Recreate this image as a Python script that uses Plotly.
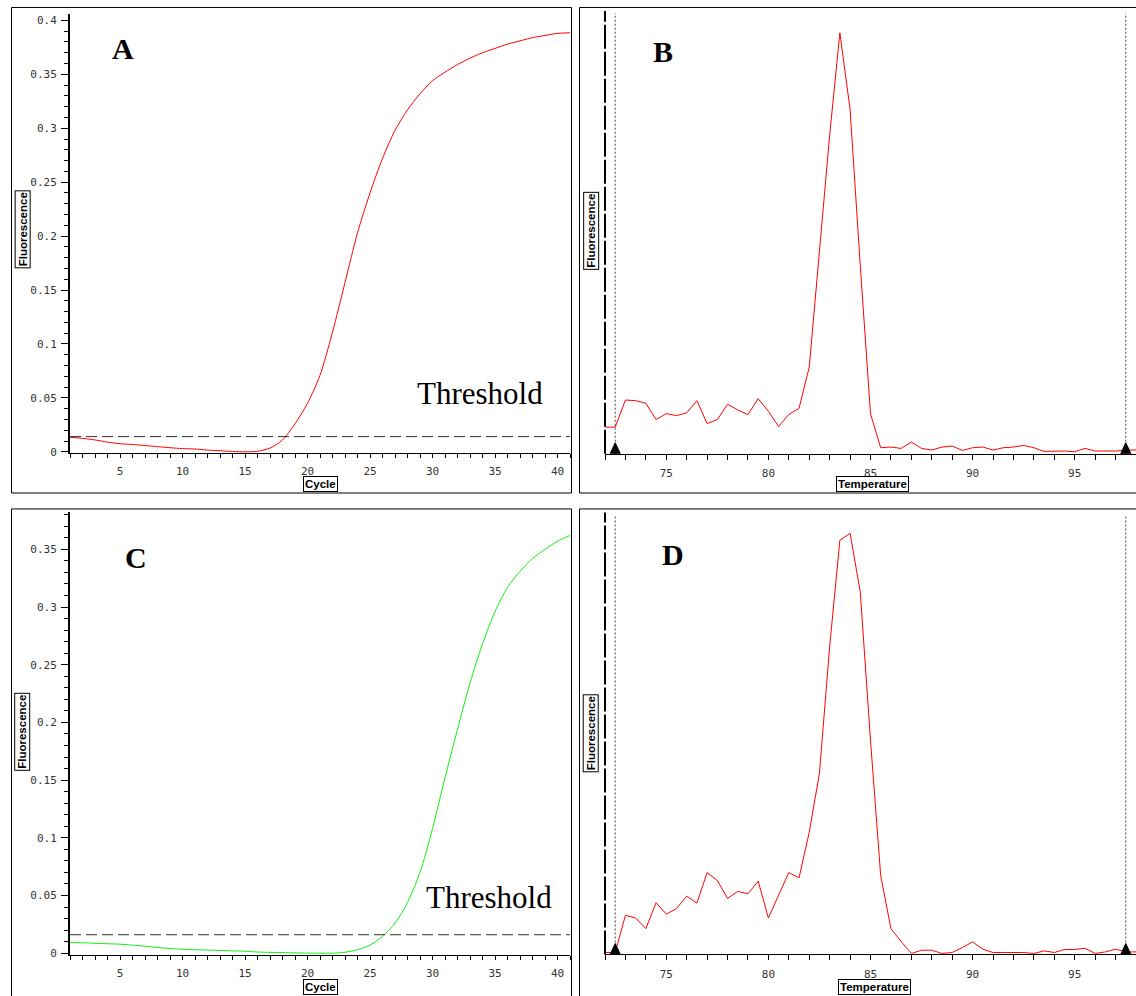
import plotly.graph_objects as go

W, H = 1136, 996

# ---------------- data ----------------
cycles = [1, 2, 3, 4, 5, 6, 7, 8, 9, 10, 11, 12, 13, 14, 15, 16, 17, 18, 19, 20,
          21, 22, 23, 24, 25, 26, 27, 28, 29, 30, 31, 32, 33, 34, 35, 36, 37, 38, 39, 40, 41]

fluor_a = [0.0135, 0.0125, 0.0110, 0.0090, 0.0075, 0.0068, 0.0058, 0.0048, 0.0038, 0.0030,
           0.0026, 0.0016, 0.0010, 0.0003, 0.0000, 0.0005, 0.0035, 0.0110, 0.0260, 0.0450,
           0.0710, 0.1110, 0.1570, 0.2030, 0.2400, 0.2720, 0.2980, 0.3170, 0.3320, 0.3440,
           0.3520, 0.3590, 0.3650, 0.3700, 0.3740, 0.3780, 0.3810, 0.3840, 0.3860, 0.3880, 0.3885]

fluor_c = [0.0092, 0.0090, 0.0086, 0.0082, 0.0078, 0.0070, 0.0060, 0.0050, 0.0040, 0.0034,
           0.0030, 0.0027, 0.0024, 0.0020, 0.0017, 0.0010, 0.0007, 0.0005, 0.0003, 0.0001,
           0.0000, 0.0000, 0.0008, 0.0030, 0.0070, 0.0145, 0.0260, 0.0440, 0.0700, 0.1080,
           0.1520, 0.1940, 0.2340, 0.2680, 0.2960, 0.3170, 0.3310, 0.3420, 0.3500, 0.3570, 0.3620]

threshold_a = 0.0141
threshold_c = 0.0160

temps = [72.0, 72.5, 73.0, 73.5, 74.0, 74.5, 75.0, 75.5, 76.0, 76.5, 77.0, 77.5, 78.0, 78.5,
         79.0, 79.5, 80.0, 80.5, 81.0, 81.5, 82.0, 82.5, 83.0, 83.5, 84.0, 84.5, 85.0, 85.5,
         86.0, 86.5, 87.0, 87.5, 88.0, 88.5, 89.0, 89.5, 90.0, 90.5, 91.0, 91.5, 92.0, 92.5,
         93.0, 93.5, 94.0, 94.5, 95.0, 95.5, 96.0, 96.5, 97.0, 97.5, 98.0]

melt_b = [26.7, 26.7, 54.0, 53.3, 50.7, 34.3, 40.3, 38.3, 41.0, 53.3, 30.3, 34.3, 49.7, 44.0,
          39.3, 55.3, 42.7, 27.3, 39.5, 45.5, 87.0, 205.0, 320.0, 423.0, 346.0, 189.0, 40.0, 6.0,
          6.7, 5.3, 11.7, 5.3, 3.7, 6.7, 7.7, 3.3, 6.0, 6.7, 3.7, 6.0, 6.7, 8.3,
          6.0, 2.3, 2.7, 2.7, 2.0, 5.3, 2.7, 2.7, 2.7, 3.7, 3.7]

melt_d = [2.0, 2.0, 39.3, 36.6, 26.0, 52.0, 40.6, 46.0, 58.6, 51.6, 82.3, 74.3, 56.3, 63.3,
          61.0, 73.6, 36.6, 59.3, 82.3, 77.0, 122.6, 182.0, 309.0, 416.0, 423.0, 364.0, 215.0, 79.0,
          26.0, 13.0, 1.0, 4.3, 4.3, 1.0, 2.0, 7.0, 12.6, 5.3, 2.0, 2.0, 2.0, 2.0,
          1.0, 3.6, 2.0, 5.0, 5.0, 6.3, 1.0, 2.6, 5.3, 2.6, 2.6]

melt_markers = [72.5, 97.5]
panel_letters = ["A", "B", "C", "D"]
cycle_range = [1, 41]
temp_range = [72, 98]


def px(x):
    return x / W


def py(y):
    return 1 - y / H


MONO = "DejaVu Sans Mono, Liberation Mono, monospace"
SERIF = "Liberation Serif, Times New Roman, serif"
SANS = "Liberation Sans, Arial, sans-serif"

fig = go.Figure()

# amplification curves
fig.add_trace(go.Scatter(x=cycles, y=fluor_a, mode="lines",
                         line=dict(color="#ff0000", width=1, shape="spline", smoothing=0.8),
                         xaxis="x", yaxis="y", showlegend=False, hoverinfo="skip"))
fig.add_trace(go.Scatter(x=cycle_range, y=[threshold_a, threshold_a], mode="lines",
                         line=dict(color="#333333", width=1, dash="11px,5px"),
                         xaxis="x", yaxis="y", showlegend=False, hoverinfo="skip"))
fig.add_trace(go.Scatter(x=cycles, y=fluor_c, mode="lines",
                         line=dict(color="#11ee11", width=1, shape="spline", smoothing=0.8),
                         xaxis="x3", yaxis="y3", showlegend=False, hoverinfo="skip"))
fig.add_trace(go.Scatter(x=cycle_range, y=[threshold_c, threshold_c], mode="lines",
                         line=dict(color="#333333", width=1, dash="11px,5px"),
                         xaxis="x3", yaxis="y3", showlegend=False, hoverinfo="skip"))

# melting curves
fig.add_trace(go.Scatter(x=temps, y=melt_b, mode="lines",
                         line=dict(color="#ff0000", width=1),
                         xaxis="x2", yaxis="y2", showlegend=False, hoverinfo="skip"))
fig.add_trace(go.Scatter(x=temps, y=melt_d, mode="lines",
                         line=dict(color="#ff0000", width=1),
                         xaxis="x4", yaxis="y4", showlegend=False, hoverinfo="skip"))

tickfont = dict(family=MONO, size=11, color="#333333")


def cycle_xaxis(dom, anchor):
    return dict(domain=dom, range=cycle_range, anchor=anchor, showline=True,
                linecolor="black", linewidth=1, ticks="outside", ticklen=4,
                tickcolor="black", tickwidth=1, tick0=0, dtick=5,
                minor=dict(dtick=1, tick0=0, ticks="outside", ticklen=4,
                           tickcolor="black", tickwidth=1),
                showgrid=False, zeroline=False, tickfont=tickfont,
                ticklabelstandoff=4, fixedrange=True)


def fluor_yaxis(dom, rng, anchor):
    return dict(domain=dom, range=rng, anchor=anchor, showline=True,
                linecolor="black", linewidth=2, ticks="outside", ticklen=7,
                tickcolor="black", tickwidth=1, tick0=0, dtick=0.05,
                minor=dict(dtick=0.01, tick0=0, ticks="outside", ticklen=4,
                           tickcolor="black", tickwidth=1),
                showgrid=False, zeroline=False, tickfont=tickfont,
                ticklabelstandoff=2, fixedrange=True)


def temp_xaxis(dom, anchor):
    return dict(domain=dom, range=temp_range, anchor=anchor, showline=True,
                linecolor="black", linewidth=1, ticks="outside", ticklen=5,
                tickcolor="black", tickwidth=1, tick0=0, dtick=5,
                minor=dict(dtick=1, tick0=0, ticks="outside", ticklen=5,
                           tickcolor="black", tickwidth=1),
                showgrid=False, zeroline=False, tickfont=tickfont,
                ticklabelstandoff=4, fixedrange=True)


def melt_yaxis(dom, rng, anchor):
    return dict(domain=dom, range=rng, anchor=anchor, showline=False,
                showticklabels=False, ticks="", showgrid=False, zeroline=False,
                fixedrange=True)


fig.update_layout(
    width=W, height=H, autosize=False,
    margin=dict(l=0, r=0, t=0, b=0),
    paper_bgcolor="white", plot_bgcolor="white",
    xaxis=cycle_xaxis([px(70), px(570)], "y"),
    yaxis=fluor_yaxis([py(455.5), py(14)], [-0.0013, 0.406], "x"),
    xaxis2=temp_xaxis([px(605), 1.0], "y2"),
    yaxis2=melt_yaxis([py(456), py(11)], [0, 445], "x2"),
    xaxis3=cycle_xaxis([px(70), px(570)], "y3"),
    yaxis3=fluor_yaxis([py(959.5), py(515)], [-0.0013, 0.382], "x3"),
    xaxis4=temp_xaxis([px(605), 1.0], "y4"),
    yaxis4=melt_yaxis([py(959.3), py(515)], [0, 444], "x4"),
)

shapes = []
# panel frames
frames = [(11.5, 7.5, 571.5, 495.5), (579.5, 7.5, 1150, 495.5),
          (11.5, 511.5, 571.5, 1010), (579.5, 511.5, 1150, 1010)]
for (x0, y0, x1, y1) in frames:
    shapes.append(dict(type="rect", xref="paper", yref="paper",
                       x0=px(x0), x1=px(x1), y0=py(y1), y1=py(y0),
                       line=dict(color="black", width=1), fillcolor="rgba(0,0,0,0)",
                       layer="below"))

for xa, ya in (("x2", "y2"), ("x4", "y4")):
    # dashed vertical axis
    shapes.append(dict(type="line", xref=xa + " domain", yref=ya + " domain",
                       x0=0, x1=0, y0=0, y1=1,
                       line=dict(color="black", width=2, dash="24px,3px")))
    for t in melt_markers:
        shapes.append(dict(type="line", xref=xa, yref=ya + " domain",
                           x0=t, x1=t, y0=0, y1=0.995,
                           line=dict(color="#444444", width=1, dash="2px,2px")))
        shapes.append(dict(type="path", xref=xa, yref=ya,
                           path=f"M {t - 0.25},0 L {t + 0.25},0 L {t},11 Z",
                           fillcolor="black", line=dict(color="black", width=1)))

fig.update_layout(shapes=shapes)

annotations = []
letter_pos = [(122.5, 49), (663, 52), (136, 560), (673, 557.5)]
for letter, (cx, cy) in zip(panel_letters, letter_pos):
    annotations.append(dict(text=f"<b>{letter}</b>", x=px(cx), y=py(cy),
                            xref="paper", yref="paper", showarrow=False,
                            xanchor="center", yanchor="middle",
                            font=dict(family=SERIF, size=30, color="black")))

for (cx, cy) in [(480, 395.5), (489, 902)]:
    annotations.append(dict(text="Threshold", x=px(cx), y=py(cy),
                            xref="paper", yref="paper", showarrow=False,
                            xanchor="center", yanchor="middle",
                            font=dict(family=SERIF, size=31, color="black")))

box_font = dict(family=SANS, size=11.5, color="black")
for (cx, cy) in [(22.5, 231), (22.5, 736), (591, 232), (591, 737)]:
    annotations.append(dict(text="<b>Fluorescence</b>", x=px(cx), y=py(cy),
                            xref="paper", yref="paper", showarrow=False,
                            xanchor="center", yanchor="middle", textangle=-90,
                            bordercolor="black", borderwidth=1, borderpad=1,
                            bgcolor="white", font=box_font))
for (cx, cy) in [(320, 486), (320, 991.5)]:
    annotations.append(dict(text="<b>Cycle</b>", x=px(cx), y=py(cy),
                            xref="paper", yref="paper", showarrow=False,
                            xanchor="center", yanchor="middle",
                            bordercolor="black", borderwidth=1, borderpad=1,
                            bgcolor="white", font=box_font))
for (cx, cy) in [(872, 486), (875, 991.5)]:
    annotations.append(dict(text="<b>Temperature</b>", x=px(cx), y=py(cy),
                            xref="paper", yref="paper", showarrow=False,
                            xanchor="center", yanchor="middle",
                            bordercolor="black", borderwidth=1, borderpad=1,
                            bgcolor="white", font=box_font))

fig.update_layout(annotations=annotations)

fig.write_html("out.html", config={"displayModeBar": False})
